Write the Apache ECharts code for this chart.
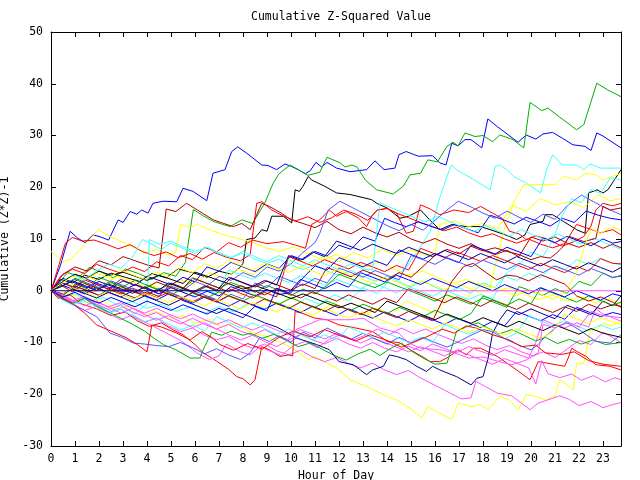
<!DOCTYPE html>
<html><head><meta charset="utf-8">
<script src="https://cdn.jsdelivr.net/npm/echarts@6/dist/echarts.min.js"></script>
<style>html,body{margin:0;padding:0;background:#fff}#c{width:640px;height:480px}</style>
</head><body><div id="c"></div>
<script>
const title = "Cumulative Z-Squared Value";
const xName = "Hour of Day";
const yName = "Cumulative (Z*Z)-1";
const hourTicks = [0,1,2,3,4,5,6,7,8,9,10,11,12,13,14,15,16,17,18,19,20,21,22,23];
const valueTicks = [-30,-20,-10,0,10,20,30,40,50];

const RED='#ff0000', GRN='#00b000', BLU='#0000ff', MAG='#ff50ff', CYN='#40ffff', YEL='#ffff00', BLK='#000000', DRD='#b00000', MBL='#5555ff', NAV='#000090';

const s01 = [[0,0],[0.4,5],[0.8,11.5],[1.1,10.2],[1.42,9.3],[1.75,10.8],[2.0,10.5],[2.4,9.8],[2.8,13.7],[3.0,13.2],[3.3,15.3],[3.57,14.8],[3.78,15.6],[4.04,15.0],[4.25,16.9],[4.67,17.3],[5.24,17.2],[5.5,19.8],[5.92,19.2],[6.49,17.4],[6.75,22.7],[7.25,23.4],[7.53,26.9],[7.78,27.8],[8.15,26.6],[8.78,24.3],[9.04,24.2],[9.4,23.4],[9.75,24.5],[10.03,24.0],[10.3,23.4],[10.6,22.6],[10.8,23.2],[11.04,24.8],[11.28,23.9],[11.5,24.8],[11.9,23.7],[12.46,23.0],[13.15,23.4],[13.5,25.1],[13.88,23.4],[14.33,23.7],[14.5,26.3],[14.8,26.9],[15.3,26.0],[15.9,26.1],[16.2,24.7],[16.46,24.3],[16.7,28.5],[16.96,28.0],[17.25,29.2],[17.5,29.2],[17.95,27.6],[18.2,33.2],[18.6,31.7],[19.46,28.7],[19.8,30.1],[20.2,29.3],[20.5,30.3],[20.9,30.6],[21.3,29.5],[21.75,28.2],[22.25,27.9],[22.5,27.1],[22.74,30.5],[23.0,29.9],[23.75,27.6]];
const s02 = [[0,0],[0.3,1.5],[0.7,3.5],[1.2,2.8],[1.6,4.5],[2.1,3.6],[2.6,2.5],[3.1,4.2],[3.6,3.4],[4.2,2.2],[4.7,3.5],[5.2,2.8],[5.6,5.5],[5.93,15.7],[6.3,14.6],[6.76,13.4],[7.1,12.9],[7.46,12.4],[7.95,13.7],[8.4,13.0],[8.9,16.9],[9.26,20.8],[9.5,22.6],[9.96,24.3],[10.3,23.4],[10.7,22.3],[11.2,22.9],[11.5,25.8],[12.05,24.7],[12.25,23.9],[12.54,24.3],[12.75,23.9],[13.1,21.4],[13.57,19.5],[14.26,18.7],[14.68,20.2],[14.96,22.4],[15.4,22.7],[15.7,25.3],[16.1,24.9],[16.5,27.9],[16.75,28.7],[16.96,28.0],[17.25,30.5],[17.67,29.8],[18.0,30.0],[18.4,28.8],[18.7,30.1],[19.25,29.2],[19.7,27.6],[19.96,36.4],[20.45,34.8],[20.7,35.3],[21.3,33.2],[21.9,31.1],[22.2,32.1],[22.74,40.1],[23.2,38.8],[23.75,37.5]];
const s03 = [[0,0],[0.4,2.2],[0.9,1.5],[1.4,3.0],[2.0,2.2],[2.5,3.4],[3.1,2.6],[3.7,1.8],[4.2,3.3],[4.8,2.5],[5.3,4.2],[5.9,3.5],[6.5,2.6],[7.0,3.8],[7.5,3.2],[7.9,4.6],[8.0,5.3],[8.15,9.9],[8.5,10.2],[8.78,11.8],[9.0,11.5],[9.2,14.4],[9.68,14.4],[10.03,13.1],[10.17,19.5],[10.35,19.2],[10.5,20.2],[10.72,22.1],[10.86,21.4],[11.4,20.2],[11.9,18.9],[12.46,18.6],[13.36,17.6],[13.57,16.9],[14.0,16.0],[14.54,14.0],[14.9,14.4],[15.4,15.6],[15.8,13.6],[16.2,11.8],[16.7,12.8],[17.3,12.4],[17.9,12.4],[18.5,11.5],[19.1,10.5],[19.4,9.9],[19.75,10.8],[19.96,12.8],[20.5,13.4],[20.6,14.7],[20.9,14.7],[21.35,13.4],[21.9,11.8],[22.25,11.1],[22.4,18.9],[22.75,19.5],[23.0,18.9],[23.2,19.5],[23.43,21.1],[23.75,23.4]];
const s04 = [[0,0],[0.5,-1.2],[1.0,-0.6],[1.6,-2.0],[2.2,-1.3],[2.8,-2.8],[3.4,-2.1],[4.0,-3.4],[4.6,-2.6],[5.2,-4.0],[5.8,-3.1],[6.4,-4.4],[7.0,-3.0],[7.6,-4.1],[8.2,-2.5],[8.8,-3.7],[9.4,-2.2],[10.0,-3.3],[10.6,-1.5],[11.2,-2.6],[11.8,-0.8],[12.4,-1.9],[13.0,0.5],[13.6,-0.5],[14.2,2.5],[14.8,4.5],[15.3,7.8],[15.8,11.5],[16.2,18.0],[16.6,23.4],[16.7,24.3],[16.9,23.4],[17.6,21.5],[18.3,19.5],[18.5,24.0],[18.7,24.3],[19.0,23.4],[19.3,22.0],[19.8,20.8],[20.4,18.9],[20.65,23.4],[20.9,26.3],[21.3,24.3],[21.9,24.3],[22.2,23.4],[22.46,24.5],[22.9,23.7],[23.75,23.7]];
const s05 = [[0,0],[0.5,1.8],[1.0,1.0],[1.6,2.6],[2.2,1.5],[2.8,2.8],[3.4,1.8],[4.0,0.6],[4.6,1.9],[5.2,0.8],[5.8,-0.4],[6.4,0.9],[7.0,-0.3],[7.6,-1.5],[8.2,-0.2],[8.8,-1.6],[9.4,-2.7],[10.0,-1.3],[10.6,-2.6],[11.2,-3.8],[11.8,-2.5],[12.4,-3.7],[13.0,-4.8],[13.6,-3.4],[14.2,-4.6],[14.8,-2.0],[15.4,-3.2],[16.0,-4.3],[16.6,-1.0],[17.2,-2.1],[17.8,1.5],[18.3,0.6],[18.6,6.5],[18.9,12.0],[19.3,17.3],[19.7,20.5],[20.4,20.5],[21.0,20.5],[21.35,22.1],[21.9,21.4],[22.25,22.7],[22.7,22.4],[23.0,21.4],[23.4,22.1],[23.75,22.7]];
const s06 = [[0,0],[0.6,-1.0],[1.2,0.8],[1.8,-0.3],[2.4,1.5],[3.0,0.4],[3.6,-0.6],[4.2,1.0],[4.8,0.0],[5.4,2.2],[6.0,1.2],[6.6,3.5],[7.2,2.4],[7.8,4.2],[8.4,3.1],[9.0,5.0],[9.6,4.0],[10.2,6.2],[10.8,5.0],[11.4,6.8],[12.0,5.6],[12.6,7.4],[13.2,6.3],[13.8,8.0],[14.4,6.8],[15.0,7.9],[15.6,6.8],[16.0,7.3],[16.2,12.8],[16.8,13.5],[17.4,12.4],[18.0,13.0],[18.6,11.9],[19.2,16.5],[19.8,15.4],[20.4,17.8],[21.0,16.6],[21.6,17.2],[22.2,16.1],[22.8,18.5],[23.3,17.4],[23.75,17.8]];
const s07 = [[0,7.6],[0.5,5.7],[0.8,6.0],[1.35,8.6],[1.97,11.8],[2.46,10.5],[2.9,9.6],[3.4,8.5],[3.9,7.3],[4.4,8.0],[4.9,6.8],[5.2,7.5],[5.4,12.8],[5.8,12.2],[6.1,12.8],[6.6,11.8],[7.2,10.8],[7.7,10.2],[8.3,9.5],[8.9,8.4],[9.5,7.6],[10.1,8.5],[10.7,7.2],[11.3,6.0],[11.9,7.0],[12.5,5.8],[13.1,4.6],[13.7,5.5],[14.3,4.2],[14.9,3.0],[15.5,3.8],[16.1,2.5],[16.7,1.4],[17.3,2.2],[17.9,1.0],[18.5,-0.2],[19.1,0.6],[19.7,-0.6],[20.3,-1.7],[20.9,-0.8],[21.5,-2.0],[22.1,-1.2],[22.7,-2.4],[23.3,-1.6],[23.75,-2.5]];
const s08 = [[0,0],[0.4,-1.2],[0.9,-0.6],[1.5,-2.4],[2.1,-1.8],[2.7,-3.5],[3.3,-2.9],[3.9,-4.6],[4.4,-4.0],[5.0,-5.5],[5.5,-4.8],[6.0,-6.3],[6.6,-5.6],[7.1,-7.0],[7.7,-6.2],[8.2,-7.8],[8.8,-8.6],[9.4,-9.7],[9.96,-10.8],[10.4,-12.2],[10.72,-13.3],[11.0,-12.7],[11.5,-14.0],[11.9,-14.9],[12.46,-17.2],[13.15,-18.5],[13.85,-20.1],[14.4,-21.1],[14.96,-22.7],[15.45,-24.6],[15.7,-22.4],[15.9,-22.9],[16.2,-23.7],[16.7,-24.9],[16.97,-21.7],[17.5,-22.4],[17.9,-22.0],[18.2,-23.0],[18.7,-20.4],[19.1,-21.1],[19.47,-23.0],[19.8,-20.1],[20.2,-20.4],[20.6,-21.1],[21.0,-20.4],[21.2,-17.2],[21.76,-19.1],[21.9,-14.0],[22.2,-14.0],[22.46,-7.9],[22.8,-7.2],[23.0,-6.2],[23.3,-6.8],[23.75,-5.9]];
const s09 = [[0,0],[0.4,-1.0],[0.9,-2.1],[1.4,-1.5],[1.9,-3.0],[2.4,-4.2],[2.9,-3.5],[3.4,-5.0],[3.9,-6.1],[4.4,-5.3],[4.9,-6.8],[5.4,-7.9],[5.9,-7.2],[6.4,-8.6],[6.9,-9.5],[7.4,-8.8],[7.9,-10.2],[8.4,-11.1],[8.9,-10.3],[9.4,-11.6],[9.9,-12.4],[10.4,-11.5],[10.9,-12.8],[11.4,-13.7],[11.9,-12.9],[12.4,-14.1],[12.9,-14.9],[13.4,-14.0],[13.9,-15.3],[14.4,-16.2],[14.9,-15.4],[15.3,-16.6],[15.8,-17.8],[16.35,-19.1],[17.1,-20.9],[17.5,-20.7],[17.7,-17.5],[18.1,-18.5],[18.6,-19.8],[19.2,-20.3],[19.96,-23.0],[20.3,-21.7],[20.7,-21.1],[21.2,-20.3],[21.6,-21.0],[22.0,-22.2],[22.5,-21.4],[23.0,-22.6],[23.4,-22.0],[23.75,-21.6]];
const s10 = [[0,0],[0.3,-1.5],[0.8,-0.8],[1.3,-2.6],[1.9,-3.5],[2.5,-4.8],[3.1,-4.1],[3.6,-5.8],[4.1,-6.9],[4.6,-6.2],[5.1,-7.6],[5.5,-8.5],[6.0,-10.4],[6.35,-12.0],[6.9,-13.6],[7.4,-15.2],[7.74,-16.6],[8.0,-17.0],[8.3,-18.2],[8.5,-17.2],[8.78,-10.8],[9.1,-11.4],[9.54,-12.7],[9.9,-12.4],[10.07,-12.6],[10.17,-4.0],[10.5,-4.4],[11.0,-5.3],[11.5,-5.6],[12.0,-6.6],[12.6,-7.1],[13.4,-7.9],[13.7,-8.8],[14.0,-9.8],[14.5,-10.0],[15.0,-11.5],[15.5,-12.8],[15.8,-13.7],[16.2,-13.7],[16.6,-12.7],[16.97,-11.4],[17.3,-12.4],[17.6,-11.1],[17.9,-11.1],[18.6,-12.7],[19.4,-15.3],[19.96,-17.2],[20.15,-15.3],[20.3,-13.7],[20.7,-14.0],[21.4,-14.6],[21.55,-13.0],[21.7,-11.1],[21.9,-11.7],[22.3,-12.7],[22.7,-14.3],[23.3,-14.6],[23.75,-15.3]];
const s11 = [[0,0],[0.5,3.2],[1.0,4.6],[1.5,3.8],[2.0,5.8],[2.5,5.0],[3.0,6.6],[3.5,5.8],[4.0,5.0],[4.5,4.4],[4.8,15.8],[5.2,15.3],[5.65,16.9],[6.1,15.6],[6.76,13.7],[7.2,13.0],[7.6,12.4],[7.95,13.0],[8.3,11.8],[8.78,16.9],[9.1,16.3],[9.6,15.0],[10.0,13.7],[10.5,13.0],[11.0,12.2],[11.5,13.4],[12.0,11.8],[12.5,11.0],[13.0,12.3],[13.5,11.2],[14.0,10.4],[14.5,11.3],[15.0,10.0],[15.5,9.2],[16.0,10.1],[16.5,9.0],[17.0,8.2],[17.5,9.1],[18.0,7.8],[18.5,7.0],[19.0,7.8],[19.5,6.6],[20.0,10.4],[20.5,9.6],[21.0,10.4],[21.5,9.2],[22.0,8.4],[22.5,9.3],[23.0,8.2],[23.4,9.0],[23.75,8.3]];
const s12 = [[0,0],[0.3,4.5],[0.6,9.2],[0.9,10.3],[1.3,9.6],[1.8,9.8],[2.3,9.0],[2.8,8.1],[3.3,8.9],[3.8,7.6],[4.3,6.8],[4.8,7.5],[5.3,6.4],[5.8,7.2],[6.3,6.1],[6.8,7.4],[7.3,6.5],[7.9,5.8],[8.3,7.0],[8.57,16.9],[8.8,17.2],[9.2,15.6],[9.7,14.4],[10.2,13.5],[10.7,14.3],[11.2,13.2],[11.7,14.1],[12.2,15.6],[12.7,14.8],[13.2,13.6],[13.6,15.6],[14.0,15.9],[14.4,15.0],[14.8,11.1],[15.1,11.5],[15.4,16.6],[15.8,15.8],[16.2,14.7],[16.8,15.6],[17.4,15.1],[17.9,16.3],[18.4,15.0],[18.8,14.0],[19.1,11.5],[19.5,11.0],[19.8,9.9],[20.2,10.6],[20.6,10.1],[21.3,8.6],[21.8,9.5],[22.2,10.5],[22.5,12.5],[22.7,15.6],[23.0,16.9],[23.4,16.4],[23.75,16.9]];
const s13 = [[0,0],[0.4,2.8],[0.9,4.2],[1.4,3.3],[1.9,5.1],[2.4,4.2],[2.9,3.4],[3.4,4.6],[3.9,3.7],[4.4,5.6],[4.9,4.8],[5.4,6.8],[5.9,6.0],[6.4,8.4],[6.9,7.5],[7.4,9.3],[7.9,8.4],[8.4,9.8],[9.0,9.1],[9.68,9.5],[10.2,8.8],[10.6,8.2],[10.86,12.8],[11.2,13.7],[11.6,15.6],[11.9,14.4],[12.3,15.3],[12.8,14.1],[13.15,12.4],[13.4,14.7],[13.6,15.6],[14.0,15.9],[14.4,15.0],[14.9,14.1],[15.4,13.2],[15.9,12.4],[16.4,11.6],[16.9,12.3],[17.4,11.2],[17.9,10.4],[18.4,11.0],[18.9,10.0],[19.4,9.2],[19.9,10.0],[20.4,9.0],[20.9,8.3],[21.4,9.1],[21.9,12.8],[22.4,12.0],[22.9,11.2],[23.4,11.8],[23.75,10.8]];
const s14 = [[0,0],[0.5,1.5],[1.0,0.6],[1.5,2.2],[2.0,1.3],[2.5,0.5],[3.0,1.9],[3.5,1.0],[4.0,2.8],[4.5,2.0],[5.0,1.1],[5.5,2.6],[6.0,1.7],[6.5,4.6],[7.0,3.8],[7.5,5.5],[8.0,4.6],[8.5,3.7],[9.0,5.2],[9.5,4.3],[10.0,6.8],[10.5,6.0],[11.0,7.6],[11.5,6.7],[12.0,8.8],[12.5,8.0],[13.0,10.4],[13.5,9.6],[13.9,14.0],[14.3,13.2],[14.8,12.4],[15.3,13.3],[15.8,12.5],[16.3,11.7],[16.8,12.8],[17.3,12.0],[17.8,11.2],[18.3,14.6],[18.8,13.8],[19.3,12.9],[19.8,14.2],[20.3,13.4],[20.8,12.5],[21.3,14.0],[21.8,13.2],[22.3,15.4],[22.8,14.6],[23.3,14.0],[23.75,13.7]];
const s15 = [[0,0],[0.5,-0.8],[1.0,0.8],[1.5,0.1],[2.0,-0.9],[2.5,0.7],[3.0,-0.3],[3.5,1.3],[4.0,0.4],[4.5,-0.6],[5.0,0.9],[5.5,0.0],[6.0,1.8],[6.5,0.9],[7.0,2.8],[7.5,2.0],[8.0,3.5],[8.5,2.6],[9.0,4.6],[9.5,3.8],[10.0,5.2],[10.5,7.4],[11.0,9.3],[11.2,11.1],[11.55,15.6],[12.04,17.3],[12.5,16.2],[13.0,15.0],[13.5,13.8],[14.0,12.6],[14.5,11.6],[15.0,12.8],[15.5,11.7],[16.0,13.6],[16.5,15.6],[16.97,17.3],[17.5,16.2],[18.0,15.0],[18.5,14.0],[19.0,15.4],[19.5,14.2],[20.0,13.2],[20.5,14.8],[21.0,13.8],[21.5,16.4],[22.1,18.5],[22.6,17.2],[23.1,16.0],[23.75,14.7]];
const s16 = [[0,0],[0.5,-1.8],[1.0,-2.5],[1.5,-1.6],[2.0,-3.0],[2.5,-3.9],[3.0,-3.2],[3.5,-4.5],[4.0,-2.5],[4.1,9.9],[4.5,9.0],[5.0,9.6],[5.5,8.5],[6.0,7.6],[6.5,8.4],[7.0,7.2],[7.5,6.4],[8.0,7.3],[8.5,6.1],[9.0,5.3],[9.5,6.1],[10.0,5.0],[10.5,4.1],[11.0,5.0],[11.5,3.8],[12.0,3.0],[12.5,3.9],[13.0,2.8],[13.5,1.9],[14.0,2.8],[14.5,1.7],[15.0,0.8],[15.5,1.8],[16.0,0.7],[16.5,-0.3],[17.0,0.6],[17.5,-0.5],[18.0,1.5],[18.5,0.6],[19.0,3.5],[19.5,5.0],[20.0,7.5],[20.5,6.6],[20.9,9.8],[21.3,14.5],[21.7,17.8],[22.1,17.0],[22.5,19.6],[22.9,18.8],[23.3,21.8],[23.75,21.4]];
const s17 = [[0,0],[0.4,-0.8],[0.9,0.5],[1.4,-0.4],[1.9,-1.3],[2.4,0.2],[2.9,-0.7],[3.4,-1.6],[3.9,-0.5],[4.4,-1.4],[4.9,0.8],[5.4,-0.1],[5.9,-1.0],[6.4,0.3],[6.9,-0.6],[7.4,4.0],[7.9,3.1],[8.4,2.2],[8.9,3.4],[9.4,2.5],[9.9,1.6],[10.4,2.9],[10.9,2.0],[11.4,1.0],[11.9,2.2],[12.4,1.3],[12.9,0.4],[13.4,1.5],[13.9,0.6],[14.4,-0.4],[14.9,0.8],[15.4,-0.1],[15.9,-1.1],[16.4,0.2],[16.9,-0.8],[17.4,-1.7],[17.9,-0.7],[18.4,-1.6],[18.9,2.8],[19.4,2.0],[19.9,3.4],[20.4,2.5],[20.9,4.8],[21.4,4.0],[21.9,6.0],[22.4,5.1],[22.9,6.3],[23.3,5.5],[23.75,5.0]];
const s18 = [[0,0],[0.5,-1.1],[1.0,1.3],[1.5,0.4],[2.0,2.6],[2.5,1.7],[3.0,0.8],[3.5,2.0],[4.0,1.1],[4.5,0.2],[5.0,1.4],[5.5,0.5],[6.0,2.3],[6.5,1.4],[7.0,0.5],[7.5,1.6],[8.0,0.7],[8.5,-0.3],[9.0,1.0],[9.5,0.1],[10.0,-0.9],[10.5,0.3],[11.0,-0.6],[11.5,1.0],[12.0,3.2],[12.5,2.3],[13.0,1.4],[13.5,0.6],[14.0,1.7],[14.5,0.8],[15.0,-0.1],[15.5,-1.0],[16.0,-2.0],[16.5,-0.8],[17.0,-1.7],[17.5,-2.6],[18.0,-1.4],[18.5,-2.3],[19.0,-3.2],[19.5,0.8],[20.0,0.0],[20.5,-0.9],[21.0,0.4],[21.5,-0.5],[22.0,1.8],[22.5,1.0],[23.0,3.4],[23.4,2.6],[23.75,2.8]];
const s19 = [[0,0],[0.4,1.6],[0.9,0.7],[1.4,2.1],[1.9,1.2],[2.4,0.3],[2.9,-0.6],[3.4,0.5],[3.9,-0.4],[4.4,-1.3],[4.9,-0.3],[5.4,-1.2],[5.9,-2.1],[6.4,-1.0],[6.9,-1.9],[7.4,0.4],[7.9,-0.5],[8.4,-1.4],[8.9,-0.3],[9.4,-1.2],[9.9,6.6],[10.4,5.7],[10.9,4.8],[11.4,6.0],[11.9,5.1],[12.4,4.2],[12.9,5.5],[13.4,4.6],[13.9,3.7],[14.4,4.9],[14.9,4.0],[15.4,8.2],[15.9,7.3],[16.4,6.4],[16.9,7.5],[17.4,6.6],[17.9,5.7],[18.4,6.8],[18.9,5.9],[19.4,5.0],[19.9,4.1],[20.4,5.3],[20.9,4.4],[21.4,3.5],[21.9,4.7],[22.4,3.8],[22.9,6.2],[23.4,5.3],[23.75,5.2]];
const s20 = [[0,0],[0.5,2.4],[1.0,1.5],[1.5,0.6],[2.0,1.8],[2.5,0.9],[3.0,0.0],[3.5,1.2],[4.0,0.3],[4.5,-0.6],[5.0,0.6],[5.5,-0.3],[6.0,-1.2],[6.5,-0.1],[7.0,-1.0],[7.5,0.8],[8.0,-0.1],[8.5,-1.0],[9.0,0.2],[9.5,-0.7],[10.0,-0.4],[10.5,2.5],[11.0,4.8],[11.5,4.0],[12.0,6.4],[12.5,5.5],[13.0,4.6],[13.5,5.8],[14.0,4.9],[14.5,7.9],[15.0,7.0],[15.5,6.1],[16.0,7.2],[16.5,6.3],[17.0,5.4],[17.5,8.8],[18.0,8.0],[18.5,7.1],[19.0,8.4],[19.5,7.5],[20.0,6.6],[20.5,10.2],[21.0,9.3],[21.5,10.5],[22.0,9.6],[22.5,8.7],[23.0,10.0],[23.4,9.2],[23.75,9.5]];
const s21 = [[0,0],[0.4,-1.0],[0.9,0.6],[1.4,-0.3],[1.9,1.2],[2.4,0.3],[2.9,2.2],[3.4,1.3],[3.9,0.4],[4.4,1.7],[4.9,0.8],[5.4,-0.1],[5.9,2.5],[6.4,1.6],[6.9,0.7],[7.4,-0.2],[7.9,1.0],[8.4,0.1],[8.9,-0.8],[9.4,0.4],[9.9,-0.5],[10.4,-1.4],[10.9,-0.2],[11.4,-1.1],[11.9,-2.0],[12.4,-0.8],[12.9,-1.7],[13.4,-2.6],[13.9,-1.4],[14.4,-2.3],[14.9,0.4],[15.4,-0.5],[15.9,-1.4],[16.4,-2.3],[16.9,-1.2],[17.4,-2.1],[17.9,-3.0],[18.4,-1.8],[18.9,-2.7],[19.4,-3.6],[19.9,-2.4],[20.4,-3.3],[20.9,-4.2],[21.4,-3.1],[21.9,-4.0],[22.4,-2.6],[22.9,-3.5],[23.4,-2.7],[23.75,-3.0]];
const s22 = [[0,0],[0.4,-1.3],[0.9,-2.2],[1.4,-1.4],[1.9,-2.6],[2.4,-3.6],[2.9,-2.8],[3.4,-4.1],[3.9,-5.0],[4.4,-4.2],[4.9,-5.5],[5.4,-6.4],[5.9,-5.3],[6.4,-6.5],[6.9,-7.4],[7.4,-6.5],[7.9,-7.8],[8.4,-8.6],[8.9,-7.5],[9.4,-8.7],[9.9,-9.5],[10.4,-8.4],[10.9,-9.5],[11.4,-10.3],[11.9,-9.2],[12.4,-10.3],[12.9,-11.1],[13.4,-10.0],[13.9,-11.1],[14.4,-11.8],[14.9,-10.7],[15.4,-11.6],[15.9,-10.3],[16.4,-11.2],[16.9,-12.0],[17.4,-10.8],[17.9,-11.7],[18.4,-12.5],[18.9,-11.4],[19.4,-12.2],[19.9,-13.0],[20.2,-10.0],[20.5,-5.6],[20.9,-6.4],[21.4,-7.2],[21.9,-6.2],[22.4,-7.0],[22.7,-3.5],[23.0,-4.5],[23.4,-5.2],[23.75,-5.9]];
const s23 = [[0,0],[0.4,-0.9],[0.9,-1.9],[1.4,-1.1],[1.9,-2.2],[2.4,-3.1],[2.9,-2.3],[3.4,-3.4],[3.9,-4.3],[4.4,-3.4],[4.9,-4.5],[5.4,-5.4],[5.9,-4.5],[6.4,-5.6],[6.9,-6.5],[7.4,-5.6],[7.9,-6.7],[8.4,-7.6],[8.9,-6.6],[9.4,-7.6],[9.9,-8.5],[10.4,-7.5],[10.9,-8.4],[11.4,-9.3],[11.9,-8.3],[12.4,-9.2],[12.9,-10.1],[13.4,-9.1],[13.9,-10.0],[14.4,-10.9],[14.9,-11.8],[15.4,-10.8],[15.9,-11.7],[16.4,-12.6],[16.9,-11.5],[17.4,-12.4],[17.9,-13.3],[18.4,-14.2],[18.9,-13.1],[19.4,-14.0],[19.9,-14.9],[20.2,-18.0],[20.45,-13.5],[20.7,-16.0],[21.2,-16.8],[21.7,-16.1],[22.1,-17.3],[22.6,-16.4],[23.1,-17.6],[23.5,-16.8],[23.75,-17.2]];
const s24 = [[0,0],[0.4,-1.5],[0.9,-2.6],[1.4,-3.8],[1.9,-3.0],[2.4,-4.4],[2.9,-5.6],[3.4,-4.7],[3.9,-6.0],[4.4,-7.2],[4.9,-8.4],[5.4,-9.6],[5.8,-11.0],[6.07,-12.0],[6.6,-13.3],[7.0,-12.6],[7.3,-10.3],[7.6,-11.0],[7.9,-11.8],[8.3,-12.4],[8.7,-10.8],[9.1,-11.6],[9.6,-12.5],[10.1,-10.6],[10.6,-9.8],[11.1,-11.0],[11.6,-9.4],[12.1,-8.4],[12.6,-9.5],[13.1,-8.6],[13.6,-7.4],[14.1,-8.5],[14.6,-7.2],[15.1,-8.3],[15.6,-7.4],[16.1,-8.4],[16.6,-9.3],[17.1,-10.2],[17.6,-9.3],[18.1,-10.5],[18.6,-11.4],[19.1,-10.6],[19.6,-11.8],[20.1,-12.6],[20.5,-11.8],[21.0,-12.9],[21.5,-11.3],[22.0,-9.6],[22.5,-10.4],[23.0,-8.0],[23.4,-9.0],[23.75,-10.0]];
const s25 = [[0,0],[0.4,-1.2],[0.9,-2.4],[1.4,-1.5],[1.9,-2.9],[2.4,-4.1],[2.9,-5.3],[3.4,-6.5],[3.9,-7.8],[4.3,-9.2],[4.68,-10.4],[5.2,-11.4],[5.8,-13.0],[6.2,-13.0],[6.4,-10.8],[6.7,-8.0],[7.1,-8.6],[7.5,-7.8],[8.0,-8.6],[8.3,-8.2],[8.8,-9.2],[9.3,-8.4],[9.8,-9.6],[10.3,-10.8],[10.8,-10.1],[11.3,-11.3],[11.8,-12.5],[12.3,-13.4],[12.8,-12.2],[13.3,-11.3],[13.7,-12.5],[14.2,-11.0],[14.6,-10.1],[15.0,-11.6],[15.5,-13.0],[16.0,-14.2],[16.5,-14.0],[16.9,-7.8],[17.3,-7.0],[17.8,-6.2],[18.2,-7.2],[18.7,-8.3],[19.2,-7.5],[19.7,-8.6],[20.2,-9.7],[20.6,-9.0],[21.1,-10.2],[21.6,-9.4],[22.1,-10.3],[22.6,-9.5],[23.1,-10.4],[23.75,-10.0]];
const s26 = [[0,0],[0.4,-0.8],[0.9,0.4],[1.4,-0.5],[1.9,-1.4],[2.4,-0.3],[2.9,-1.2],[3.4,-2.1],[3.9,-1.0],[4.4,-1.9],[4.9,-2.8],[5.4,-1.7],[5.9,-2.6],[6.4,-3.5],[6.9,-4.4],[7.4,-3.4],[7.9,-4.3],[8.4,-5.2],[8.9,-6.2],[9.4,-7.0],[9.8,-8.0],[10.2,-9.1],[11.07,-10.4],[11.6,-11.4],[12.0,-13.7],[12.6,-14.3],[13.15,-16.2],[13.4,-15.3],[13.85,-14.6],[14.1,-12.4],[14.4,-12.7],[14.8,-13.3],[15.24,-14.6],[15.65,-15.6],[15.9,-14.6],[16.2,-15.3],[16.9,-16.6],[17.5,-18.2],[17.75,-16.9],[18.0,-16.6],[18.2,-13.3],[18.4,-8.2],[18.7,-5.6],[19.0,-3.7],[19.5,-4.6],[20.0,-3.5],[20.5,-4.5],[21.0,-5.4],[21.5,-2.8],[22.0,-3.7],[22.5,-4.6],[23.0,-2.0],[23.4,-2.9],[23.75,-1.0]];
const s27 = [[0,0],[0.4,-1.4],[0.9,-2.6],[1.4,-3.8],[1.9,-5.0],[2.46,-8.2],[2.9,-8.9],[3.43,-10.1],[3.9,-10.3],[4.4,-10.6],[4.9,-10.8],[5.4,-10.0],[5.9,-11.0],[6.4,-12.2],[6.9,-11.2],[7.4,-12.4],[7.9,-13.3],[8.3,-12.0],[8.7,-9.0],[9.1,-9.8],[9.5,-8.7],[10.0,-9.9],[10.5,-8.0],[11.0,-9.1],[11.5,-7.2],[12.0,-8.3],[12.5,-9.4],[13.0,-8.2],[13.5,-9.3],[14.0,-10.3],[14.5,-9.0],[15.0,-10.1],[15.5,-9.0],[16.0,-10.0],[16.5,-10.9],[17.0,-9.8],[17.5,-8.6],[18.0,-7.5],[18.4,-7.9],[19.0,-9.5],[19.8,-11.1],[20.0,-11.4],[20.3,-10.4],[20.6,-8.8],[21.1,-6.9],[21.5,-6.2],[22.0,-7.5],[22.7,-9.8],[23.3,-10.1],[23.75,-8.5]];
const s28 = [[0,0],[0.5,1.0],[1.0,2.4],[1.5,1.5],[2.0,0.6],[2.5,1.9],[3.0,1.0],[3.5,0.1],[4.0,-0.8],[4.5,0.5],[5.0,-0.4],[5.5,-1.3],[6.0,-0.1],[6.5,-1.0],[7.0,-1.9],[7.5,-0.7],[8.0,-1.6],[8.5,1.5],[9.0,0.6],[9.5,2.8],[10.0,1.9],[10.5,1.0],[11.0,2.4],[11.5,1.5],[12.0,4.4],[12.5,3.5],[13.0,2.6],[13.5,3.9],[14.0,3.0],[14.5,2.1],[15.0,6.8],[15.5,6.0],[16.0,5.1],[16.5,6.4],[17.0,5.5],[17.5,4.6],[18.0,5.9],[18.5,5.0],[19.0,4.1],[19.5,5.3],[20.0,4.4],[20.5,3.5],[21.0,4.8],[21.5,3.9],[22.0,3.0],[22.5,4.3],[23.0,3.4],[23.4,2.5],[23.75,3.0]];
const s29 = [[0,0],[0.4,1.2],[0.9,0.3],[1.4,-0.6],[1.9,0.6],[2.4,-0.3],[2.9,-1.2],[3.4,0.0],[3.9,-0.9],[4.4,-1.8],[4.9,-0.6],[5.4,-1.5],[5.9,-2.4],[6.4,-1.2],[6.9,-2.1],[7.4,-3.0],[7.9,-1.8],[8.4,-2.7],[8.9,-3.6],[9.4,-2.4],[9.9,-3.3],[10.4,-4.2],[10.9,-3.0],[11.4,-3.9],[11.9,-4.8],[12.4,-3.5],[12.9,-4.4],[13.4,-5.3],[13.9,-4.1],[14.4,-5.0],[14.9,-5.9],[15.4,-4.7],[15.9,-5.6],[16.4,-6.5],[16.9,-5.3],[17.4,-6.2],[17.9,-7.1],[18.4,-5.9],[18.9,-6.8],[19.4,-4.0],[19.9,-4.9],[20.4,-5.8],[20.9,-4.6],[21.4,-5.5],[21.9,-3.2],[22.4,-4.1],[22.9,-5.0],[23.4,-4.2],[23.75,-4.6]];
const s30 = [[0,0],[0.5,0.9],[1.0,2.2],[1.5,1.3],[2.0,0.4],[2.5,1.6],[3.0,0.7],[3.5,-0.2],[4.0,1.0],[4.5,0.1],[5.0,-0.8],[5.5,0.4],[6.0,-0.5],[6.5,-1.4],[7.0,-0.2],[7.5,-1.1],[8.0,-2.0],[8.5,-0.8],[9.0,-1.7],[9.5,-2.6],[10.0,-1.4],[10.5,-2.3],[11.0,-3.2],[11.5,-2.0],[12.0,-2.9],[12.5,-3.8],[13.0,-2.6],[13.5,-3.5],[14.0,-4.4],[14.5,-3.2],[15.0,-4.1],[15.5,-5.0],[16.0,-3.8],[16.5,-4.7],[17.0,-5.6],[17.5,-4.4],[18.0,-1.0],[18.5,-1.9],[19.0,-2.8],[19.5,-1.6],[20.0,-2.5],[20.4,0.5],[20.9,-0.4],[21.4,-1.3],[21.9,-2.2],[22.4,-1.0],[22.9,-1.9],[23.4,-2.8],[23.75,-2.2]];
const s31 = [[0,0],[0.4,-1.6],[0.9,-2.8],[1.4,-2.0],[1.9,-3.2],[2.4,-4.4],[2.9,-3.6],[3.4,-4.8],[3.9,-6.0],[4.4,-5.2],[4.9,-6.4],[5.4,-7.6],[5.9,-6.6],[6.4,-7.8],[6.9,-5.0],[7.4,-6.1],[7.9,-7.2],[8.4,-6.2],[8.9,-7.3],[9.4,-8.4],[9.9,-7.4],[10.4,-8.5],[10.9,-9.5],[11.4,-8.5],[11.9,-9.6],[12.4,-7.0],[12.9,-8.0],[13.4,-9.0],[13.9,-8.0],[14.4,-9.0],[14.9,-10.0],[15.4,-9.0],[15.9,-10.0],[16.4,-6.5],[16.9,-7.5],[17.4,-8.4],[17.9,-7.4],[18.4,-8.4],[18.9,-9.3],[19.4,-8.2],[19.9,-4.8],[20.4,-5.8],[20.9,-6.8],[21.4,-5.8],[21.9,-6.8],[22.4,-7.7],[22.9,-6.6],[23.4,-7.5],[23.75,-7.0]];
const s32 = [[0,0],[0.4,1.5],[0.9,3.1],[1.4,2.2],[1.9,3.8],[2.4,5.2],[2.9,4.3],[3.4,6.5],[3.8,9.9],[4.2,9.0],[4.6,8.0],[5.0,9.2],[5.5,8.2],[6.0,7.2],[6.5,8.4],[7.0,7.4],[7.5,6.4],[8.0,7.6],[8.5,6.6],[9.0,5.6],[9.5,6.8],[10.0,5.8],[10.5,4.8],[11.0,6.0],[11.5,5.0],[12.0,4.0],[12.5,5.2],[13.0,4.2],[13.4,4.0],[13.7,17.0],[14.1,16.2],[14.6,15.2],[15.1,14.2],[15.6,13.3],[16.1,14.4],[16.6,13.4],[17.1,12.4],[17.6,11.4],[18.1,12.6],[18.6,11.6],[19.1,10.6],[19.6,11.8],[20.1,10.8],[20.6,9.8],[21.1,11.0],[21.6,10.0],[22.1,9.0],[22.6,10.2],[23.1,9.2],[23.75,8.0]];
const s33 = [[0,0],[0.5,1.8],[1.0,3.2],[1.5,2.4],[2.0,3.8],[2.5,3.0],[3.0,3.6],[3.5,2.8],[4.0,2.0],[4.5,3.0],[5.0,2.2],[5.5,1.4],[6.0,3.6],[6.5,2.8],[7.0,2.0],[7.5,1.2],[8.0,0.3],[8.5,1.0],[9.0,0.2],[9.5,-0.6],[10.0,-1.5],[10.5,-0.6],[11.0,-1.5],[11.5,-2.4],[12.0,-3.3],[12.5,-2.4],[13.0,-3.3],[13.5,-4.2],[14.0,-2.0],[14.5,-2.9],[15.0,-3.8],[15.5,-4.7],[16.0,-5.6],[16.5,-4.5],[17.0,-5.4],[17.5,-6.3],[18.0,-5.2],[18.5,-6.1],[19.0,-7.0],[19.5,-5.9],[20.0,-6.8],[20.5,-7.7],[21.0,-6.6],[21.5,-7.5],[22.0,-8.4],[22.5,-7.3],[23.0,-8.2],[23.75,-9.0]];
const s34 = [[0,0],[0.4,-1.3],[0.9,-2.5],[1.4,-4.3],[1.9,-6.6],[2.5,-7.8],[3.15,-9.1],[3.6,-10.4],[4.0,-11.8],[4.2,-6.6],[4.6,-7.0],[5.2,-8.1],[5.8,-9.5],[6.28,-7.9],[6.7,-9.0],[7.04,-10.4],[7.6,-11.5],[8.2,-10.2],[8.8,-11.3],[9.5,-9.0],[10.1,-7.8],[10.8,-8.9],[11.4,-7.5],[12.0,-8.6],[12.7,-9.7],[13.3,-8.5],[14.0,-9.6],[14.6,-10.9],[15.2,-9.8],[15.8,-8.6],[16.3,-7.4],[16.8,-8.2],[17.3,-6.8],[17.7,-7.2],[18.4,-8.5],[19.1,-9.5],[19.6,-10.8],[20.2,-10.5],[20.6,-12.0],[21.3,-12.3],[21.8,-11.8],[22.4,-13.5],[23.0,-14.2],[23.75,-14.6]];
const s35 = [[0,0],[0.5,-0.6],[1.0,0.9],[1.5,0.0],[2.0,-0.9],[2.5,0.4],[3.0,-0.5],[3.5,-1.4],[4.0,-0.2],[4.5,-1.1],[5.0,1.5],[5.5,0.6],[6.0,-0.3],[6.5,0.9],[7.0,0.0],[7.5,2.5],[8.0,1.6],[8.5,0.7],[9.0,1.9],[9.5,1.0],[10.0,0.1],[10.5,1.3],[11.0,0.4],[11.5,4.5],[12.0,3.6],[12.5,2.7],[13.0,4.0],[13.5,3.1],[14.0,2.2],[14.5,3.5],[15.0,2.6],[15.5,4.7],[16.0,6.8],[16.5,8.0],[17.0,7.1],[17.5,8.6],[18.0,7.7],[18.5,8.3],[19.0,7.6],[19.5,7.0],[20.0,6.0],[20.4,6.6],[20.8,6.3],[21.07,7.3],[21.35,8.6],[21.6,10.5],[22.2,9.5],[22.7,10.1],[23.0,16.3],[23.3,15.6],[23.75,16.0]];
const s36 = [[0,0],[0.4,1.1],[0.9,-0.2],[1.4,1.4],[1.9,0.5],[2.4,-0.4],[2.9,0.8],[3.4,-0.1],[3.9,-1.0],[4.4,0.2],[4.9,-0.7],[5.4,-1.6],[5.9,-0.4],[6.4,-1.3],[6.9,-2.2],[7.4,-1.0],[7.9,-1.9],[8.4,-2.8],[8.9,-1.6],[9.4,-2.5],[9.9,-3.4],[10.4,-2.2],[10.9,-3.1],[11.4,-4.0],[11.9,-2.8],[12.4,-3.7],[12.9,-4.6],[13.4,-3.4],[13.9,-4.3],[14.4,-5.2],[14.9,-4.0],[15.4,-4.9],[15.9,-5.8],[16.3,-2.0],[16.7,1.8],[17.2,4.7],[17.6,5.3],[18.1,3.6],[18.57,2.1],[19.0,3.0],[19.4,2.8],[19.9,1.9],[20.4,3.1],[20.9,2.2],[21.4,1.3],[21.9,-1.0],[22.4,-2.0],[22.9,-1.2],[23.4,-2.2],[23.75,-3.2]];
const s37 = [[0,0],[0.4,-0.9],[0.9,0.6],[1.4,-0.3],[1.9,-1.2],[2.4,0.1],[2.9,-0.8],[3.4,-1.7],[3.9,-0.5],[4.4,-1.4],[4.9,-2.3],[5.4,-1.1],[5.9,-2.0],[6.4,-2.9],[6.9,-1.7],[7.4,-2.6],[7.9,-3.5],[8.4,-2.3],[8.9,-3.2],[9.4,-4.1],[9.9,-2.9],[10.4,-3.8],[10.9,-4.7],[11.4,-3.5],[11.9,-4.4],[12.4,-5.3],[12.9,-4.1],[13.4,-5.0],[13.9,-5.9],[14.4,-6.8],[14.9,-5.6],[15.4,-6.5],[15.9,-7.4],[16.4,-6.2],[16.9,-7.1],[17.4,-8.0],[17.9,-6.8],[18.4,-7.7],[18.9,-8.6],[19.4,-7.4],[19.9,-8.3],[20.4,-9.2],[20.9,-8.0],[21.4,-4.5],[21.9,-5.4],[22.4,-6.3],[22.9,-5.2],[23.4,-6.0],[23.75,-6.5]];
const s38 = [[0,0],[0.4,1.3],[0.9,2.8],[1.4,2.0],[1.9,3.4],[2.4,2.5],[2.9,4.0],[3.4,3.1],[3.9,2.2],[4.4,3.6],[4.9,2.7],[5.4,4.4],[5.9,3.5],[6.4,5.2],[6.9,4.3],[7.4,5.8],[7.9,4.9],[8.4,4.0],[8.9,5.3],[9.4,4.4],[9.9,3.5],[10.4,4.7],[10.9,3.8],[11.4,2.9],[11.9,4.1],[12.4,3.2],[12.9,2.3],[13.4,1.4],[13.9,2.6],[14.4,1.7],[14.9,0.8],[15.4,2.0],[15.9,1.1],[16.4,0.2],[16.9,1.4],[17.4,0.5],[17.9,-0.4],[18.4,0.8],[18.9,-0.1],[19.4,-1.0],[19.9,0.2],[20.4,-0.7],[20.9,-1.6],[21.4,-0.4],[21.9,3.5],[22.2,8.0],[22.5,12.0],[22.9,11.1],[23.4,12.4],[23.75,11.6]];
const s39 = [[0,0],[0.4,-0.7],[0.9,-1.8],[1.4,-2.9],[1.9,-2.0],[2.4,-3.2],[2.9,-4.3],[3.4,-3.4],[3.9,-4.6],[4.4,-5.7],[4.9,-4.8],[5.4,-6.0],[5.9,-7.1],[6.4,-6.2],[6.9,-7.4],[7.4,-8.5],[7.9,-9.5],[8.4,-8.6],[8.9,-9.8],[9.4,-10.8],[9.8,-9.8],[10.2,-7.5],[11.2,-5.6],[12.46,-5.6],[13.0,-5.3],[13.7,-7.2],[14.5,-8.2],[14.9,-10.1],[15.4,-11.1],[16.2,-11.4],[16.8,-12.0],[17.4,-13.0],[18.0,-12.8],[18.6,-13.6],[19.2,-14.3],[19.8,-13.4],[20.3,-12.0],[20.5,-6.5],[21.0,-7.2],[21.5,-6.0],[22.0,-7.0],[22.5,-4.0],[23.0,-4.8],[23.75,-5.2]];
const s40 = [[0,0],[0.5,-1.2],[1.0,-0.3],[1.5,-1.5],[2.0,-2.4],[2.5,-1.3],[3.0,-2.2],[3.5,-3.1],[4.0,-2.0],[4.5,-2.9],[5.0,-3.8],[5.5,-2.7],[6.0,-3.6],[6.5,-4.5],[7.0,-3.4],[7.5,-4.3],[8.0,-5.2],[8.5,-3.0],[9.0,-3.9],[9.4,0.5],[9.9,-0.4],[10.4,2.2],[10.9,1.3],[11.4,0.4],[11.9,1.6],[12.4,0.7],[12.9,3.5],[13.4,2.6],[13.9,1.7],[14.4,3.0],[14.9,2.1],[15.4,1.2],[15.9,2.4],[16.4,1.5],[16.9,0.6],[17.4,1.8],[17.9,0.9],[18.4,0.0],[18.9,1.2],[19.4,0.3],[19.9,-0.6],[20.4,0.6],[20.9,-0.3],[21.4,-1.2],[21.9,0.0],[22.4,-0.9],[22.9,-1.8],[23.4,-0.6],[23.75,-1.0]];
const s41 = [[0,0],[0.4,0.8],[0.9,1.9],[1.4,1.0],[1.9,0.1],[2.4,1.3],[2.9,0.4],[3.4,-0.5],[3.9,0.7],[4.4,-0.2],[4.9,1.5],[5.4,0.6],[5.9,-0.3],[6.4,0.9],[6.9,0.0],[7.4,2.6],[7.9,1.7],[8.4,0.8],[8.9,2.0],[9.4,1.1],[9.9,6.8],[10.4,5.9],[10.9,7.5],[11.4,6.6],[11.9,9.6],[12.4,8.7],[12.9,7.8],[13.4,9.0],[13.9,8.1],[14.4,7.2],[14.9,8.4],[15.4,7.5],[15.9,6.6],[16.4,7.8],[16.9,6.9],[17.4,6.0],[17.9,7.2],[18.4,6.3],[18.9,5.4],[19.4,6.6],[19.9,5.7],[20.4,4.8],[20.9,6.0],[21.4,5.1],[21.9,4.2],[22.4,5.4],[22.9,4.5],[23.4,3.6],[23.75,4.5]];
const s42 = [[0,0],[13.1,0]];
const s43 = [[13.1,0],[23.75,0]];

const seriesData = [s01,s02,s03,s04,s05,s06,s07,s08,s09,s10,s11,s12,s13,s14,s15,s16,s17,s18,s19,s20,s21,s22,s23,s24,s25,s26,s27,s28,s29,s30,s31,s32,s33,s34,s35,s36,s37,s38,s39,s40,s41,s42,s43];
const seriesColors = [BLU,GRN,BLK,CYN,YEL,YEL,YEL,YEL,MAG,RED,DRD,RED,RED,BLU,MBL,CYN,CYN,GRN,RED,BLU,DRD,MAG,MAG,MAG,GRN,NAV,MBL,MBL,BLU,GRN,CYN,CYN,BLK,RED,DRD,DRD,YEL,YEL,MAG,BLU,NAV,NAV,MAG];

const FONT = 'DejaVu Sans Mono';
const FS = 11.5;
const chart = echarts.init(document.getElementById('c'), null, {renderer:'canvas'});
const axisCommon = {
  type:'value', axisLine:{show:true, onZero:false, lineStyle:{color:'#000', width:1}},
  axisTick:{show:true, inside:true, length:5, lineStyle:{color:'#000'}},
  splitLine:{show:false}
};
chart.setOption({
  animation:false,
  backgroundColor:'#fff',
  title:{text:title, left:336, top:6, textAlign:'center', textStyle:{fontFamily:FONT, fontSize:FS, fontWeight:'normal', color:'#000'}},
  grid:{left:51, right:19, top:32, bottom:34, containLabel:false, outerBoundsMode:'none'},
  xAxis:[
    Object.assign({}, axisCommon, {min:0, max:23.75, interval:1, position:'bottom',
      name:xName, nameLocation:'middle', nameGap:19, nameTextStyle:{fontFamily:FONT, fontSize:FS, color:'#000'},
      axisLabel:{show:true, margin:7, fontFamily:FONT, fontSize:FS, color:'#000', showMaxLabel:false,
        formatter:v => hourTicks.indexOf(v) >= 0 ? String(v) : ''}}),
    Object.assign({}, axisCommon, {min:0, max:23.75, interval:1, position:'top', axisLabel:{show:false}})
  ],
  yAxis:[
    Object.assign({}, axisCommon, {min:-30, max:50, interval:10, position:'left',
      name:yName, nameLocation:'middle', nameGap:33, nameTextStyle:{fontFamily:FONT, fontSize:FS, color:'#000'},
      axisLabel:{show:true, margin:8, fontFamily:FONT, fontSize:FS, color:'#000',
        formatter:v => valueTicks.indexOf(v) >= 0 ? String(v) : ''}}),
    Object.assign({}, axisCommon, {min:-30, max:50, interval:10, position:'right', axisLabel:{show:false}})
  ],
  series: seriesData.map((d,i) => ({
    type:'line', data:d, showSymbol:false, symbol:'none', silent:true,
    lineStyle:{color:seriesColors[i], width:1}, itemStyle:{color:seriesColors[i]}, z:(i >= 41 ? 3 : 2)
  }))
});
</script></body></html>
